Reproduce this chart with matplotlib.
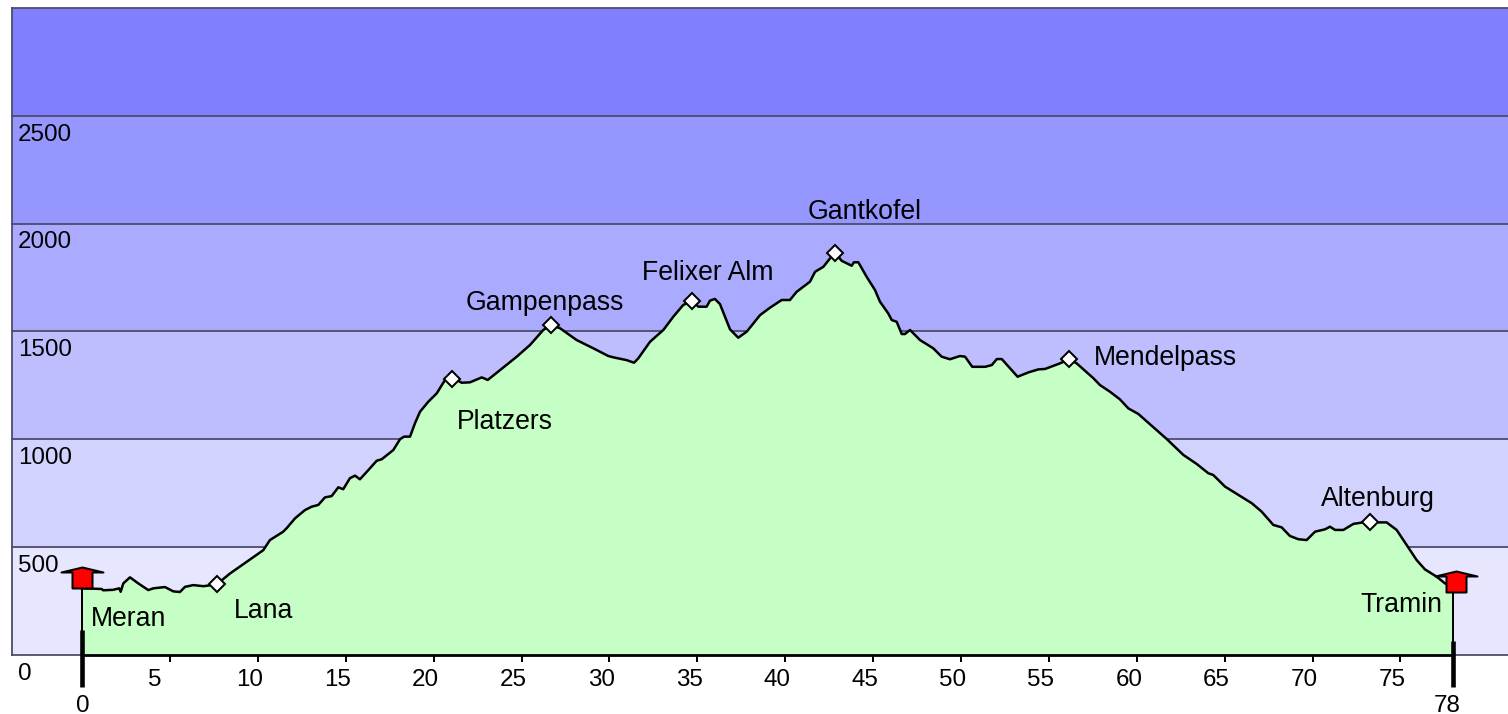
import matplotlib
matplotlib.use('Agg')
import matplotlib.pyplot as plt
from matplotlib.path import Path

WIDTH = 1508
HEIGHT = 714
DPI = 100

plt.rcParams['font.family'] = ['Liberation Sans', 'DejaVu Sans']

km = [0, 1.12, 1.2, 1.76, 2.12, 2.2, 2.35, 2.73, 3.2, 3.77, 4.06, 4.72, 5.19, 5.57, 5.86,
      6.33, 6.9, 7.66, 8.42, 9.37, 10.31, 10.69, 11.43, 11.64, 12.12, 12.68, 13.07, 13.44,
      13.82, 14.2, 14.58, 14.86, 15.24, 15.53, 15.81, 16.38, 16.76, 17.05, 17.71, 18.09,
      18.32, 18.66, 18.94, 19.23, 19.7, 20.18, 20.65, 21.06, 21.6, 22.07, 22.74, 23.08,
      23.78, 24.73, 25.48, 26.24, 26.68, 27.19, 28.14, 29.08, 29.94, 30.22, 30.98, 31.4,
      31.64, 32.31, 33.07, 33.63, 34.2, 34.72, 35.06, 35.53, 35.72, 36.0, 36.29, 36.58,
      36.86, 37.33, 37.81, 38.57, 39.13, 39.8, 40.27, 40.65, 41.41, 41.7, 42.17, 42.55,
      42.85, 43.21, 43.78, 43.91, 44.16, 44.63, 45.11, 45.39, 45.86, 46.06, 46.34, 46.63,
      46.81, 47.1, 47.67, 48.42, 48.9, 49.37, 49.94, 50.23, 50.64, 51.37, 51.75, 52.04,
      52.32, 52.79, 53.22, 53.83, 54.4, 54.78, 55.63, 56.14, 56.58, 57.53, 57.91, 58.48,
      59.04, 59.52, 60.09, 61.7, 62.65, 63.41, 64.07, 64.35, 65.02, 66.54, 67.1, 67.77,
      68.24, 68.71, 69.19, 69.66, 70.14, 70.71, 70.99, 71.28, 71.75, 72.32, 72.79, 73.26,
      73.74, 74.21, 74.78, 75.35, 75.92, 76.39, 77.06, 77.53, 78]
elevation = [307, 304, 298, 300, 307, 291, 330, 358, 330, 299, 307, 313, 293, 290, 314,
             322, 317, 325, 376, 430, 484, 531, 569, 586, 632, 670, 686, 694,
             729, 735, 776, 767, 818, 830, 813, 864, 899, 906, 949, 999,
             1011, 1011, 1073, 1127, 1173, 1212, 1274, 1285, 1261, 1263, 1286, 1274,
             1320, 1382, 1436, 1506, 1529, 1514, 1459, 1421, 1385, 1379, 1366, 1354,
             1374, 1451, 1506, 1567, 1622, 1640, 1614, 1614, 1642, 1650, 1626, 1567,
             1509, 1470, 1498, 1575, 1609, 1645, 1645, 1683, 1730, 1776, 1799, 1838,
             1864, 1827, 1804, 1820, 1820, 1753, 1691, 1637, 1583, 1552, 1544, 1487,
             1487, 1506, 1459, 1421, 1382, 1370, 1385, 1382, 1335, 1335, 1343, 1371,
             1371, 1328, 1289, 1309, 1323, 1325, 1351, 1370, 1351, 1282, 1250, 1219,
             1184, 1142, 1116, 1000, 926, 884, 841, 833, 779, 702, 663, 601,
             590, 550, 535, 531, 570, 581, 593, 578, 578, 606, 612, 615,
             613, 613, 578, 508, 438, 395, 361, 330, 316]

band_edges = [0, 500, 1000, 1500, 2000, 2500, 3000]
band_colors = ['#E6E6FF', '#D2D2FF', '#BEBEFF', '#AAAAFF', '#9696FF', '#8080FF']
y_labels = ['0', '500', '1000', '1500', '2000', '2500']
x_ticks = list(range(5, 80, 5))

place_km = [7.66, 21.06, 26.68, 34.72, 42.85, 56.14, 73.26]
place_elev = [325, 1278, 1529, 1640, 1864, 1370, 615]

label_names = ['Meran', 'Lana', 'Platzers', 'Gampenpass', 'Felixer Alm', 'Gantkofel',
               'Mendelpass', 'Altenburg', 'Tramin']
label_km = [0.51, 8.65, 21.33, 21.84, 31.85, 41.3, 57.57, 70.48, 72.7]
label_elev = [133, 169, 1046, 1598, 1738, 2021, 1343, 689, 197]

flag_km = [0, 78.14]
flag_elev = [308, 292]

GRID = '#4c4c68'
PX = 72 / DPI

fig = plt.figure(figsize=(WIDTH / DPI, HEIGHT / DPI), dpi=DPI)
ax = fig.add_axes([12 / WIDTH, (HEIGHT - 654.5) / HEIGHT, (WIDTH - 12) / WIDTH, 646.5 / HEIGHT])
ax.set_xlim((12 - 82) / 17.58, (WIDTH - 82) / 17.58)
ax.set_ylim(0, 3000)

for i, color in enumerate(band_colors):
    ax.axhspan(band_edges[i], band_edges[i + 1], color=color, lw=0, zorder=0)
for edge in band_edges:
    ax.axhline(edge, color=GRID, lw=1.8 * PX, zorder=1, clip_on=False)

ax.fill_between(km, elevation, 0, color='#C6FFC6', lw=0, zorder=2)
ax.plot(km, elevation, color='black', lw=2.5 * PX, zorder=3)
ax.plot([0, 78], [0, 0], color='black', lw=2.8 * PX, zorder=3, clip_on=False, solid_capstyle='butt')

# posts under the start and finish flags
ax.plot([0, 0], [flag_elev[0], 114], color='black', lw=2 * PX, zorder=3)
ax.plot([78, 78], [flag_elev[1], 63], color='black', lw=2 * PX, zorder=3)
ax.plot([0, 0], [114, -150], color='black', lw=4.6 * PX, zorder=4, clip_on=False, solid_capstyle='butt')
ax.plot([78, 78], [63, -150], color='black', lw=4.6 * PX, zorder=4, clip_on=False, solid_capstyle='butt')

ax.plot(place_km, place_elev, ls='none', marker='D', ms=11.2 * PX, mfc='white', mec='black',
        mew=2 * PX, zorder=5)

flag = Path([(-10, 0), (10, 0), (10, 16), (21, 16), (0, 21), (-21, 16), (-10, 16), (-10, 0)], closed=True)
ax.plot(flag_km, flag_elev, ls='none', marker=flag, ms=42 * PX, mfc='red', mec='black',
        mew=2 * PX, zorder=5)

for name, x, y in zip(label_names, label_km, label_elev):
    ax.text(x, y, name, fontsize=19.2, ha='left', va='baseline', zorder=6)

ax.set_xticks(x_ticks)
ax.set_xticklabels([])
ax.set_yticks([])
ax.tick_params(axis='x', length=7 * PX, width=2 * PX, color='black')

for tick in x_ticks:
    ax.annotate(str(tick), (tick, 0), xytext=(-21.5, -32), textcoords='offset pixels',
                fontsize=17.4, ha='left', va='baseline', annotation_clip=False)
ax.annotate('0', (0, 0), xytext=(-6, -57), textcoords='offset pixels',
            fontsize=17.4, ha='left', va='baseline', annotation_clip=False)
ax.annotate('78', (78, 0), xytext=(-19, -57), textcoords='offset pixels',
            fontsize=17.4, ha='left', va='baseline', annotation_clip=False)

for edge, name in zip(band_edges, y_labels):
    ax.annotate(name, (0, edge), xycoords=ax.get_yaxis_transform(), xytext=(6, -25),
                textcoords='offset pixels', fontsize=17.4, ha='left', va='baseline',
                annotation_clip=False)

for side in ['top', 'right', 'bottom']:
    ax.spines[side].set_visible(False)
ax.spines['left'].set_color(GRID)
ax.spines['left'].set_linewidth(1.8 * PX)

fig.savefig('out.png', dpi=DPI)
